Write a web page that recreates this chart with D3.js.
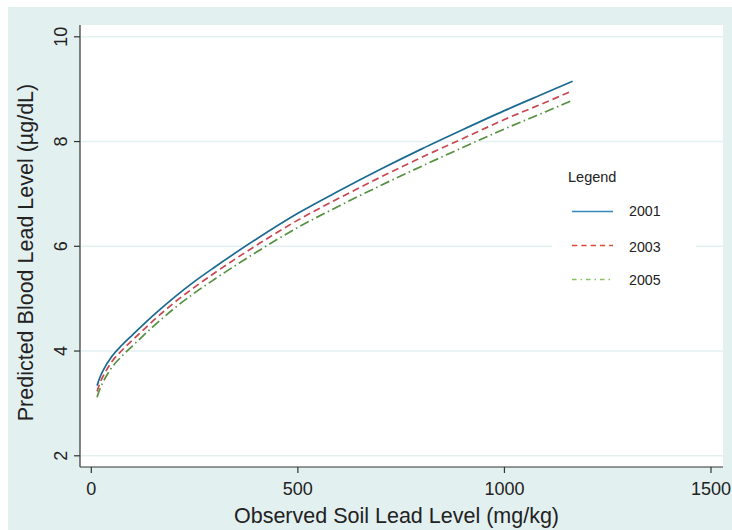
<!DOCTYPE html>
<html><head><meta charset="utf-8">
<script src="https://cdn.jsdelivr.net/npm/d3@7"></script>
<style>body{margin:0;background:#fff}svg{display:block}text{font-family:"Liberation Sans",Arial,sans-serif;fill:#222}</style>
</head><body><svg id="c" width="732" height="530"></svg>
<script>
const soil = [14, 20, 30, 50, 75, 100, 150, 200, 250, 300, 400, 500, 600, 700, 800, 900, 1000, 1100, 1165];
const y2001 = [3.34, 3.48, 3.65, 3.90, 4.12, 4.31, 4.68, 5.02, 5.33, 5.61, 6.14, 6.63, 7.06, 7.47, 7.86, 8.23, 8.59, 8.93, 9.15];
const y2003 = [3.23, 3.37, 3.54, 3.80, 4.02, 4.21, 4.58, 4.92, 5.22, 5.50, 6.02, 6.50, 6.92, 7.32, 7.70, 8.06, 8.42, 8.75, 8.97];
const y2005 = [3.12, 3.26, 3.43, 3.69, 3.91, 4.10, 4.47, 4.81, 5.11, 5.38, 5.89, 6.36, 6.77, 7.16, 7.53, 7.89, 8.24, 8.57, 8.79];
const seriesNames = ["2001", "2003", "2005"];
const xTicks = [0, 500, 1000, 1500];
const yTicks = [2, 4, 6, 8, 10];

const svg = d3.select("#c");
const teal = "#e3f0f0";
const box = {l: 80, r: 723, t: 25, b: 467};
const x = d3.scaleLinear().domain([0, 1500]).range([91.3, 711]);
const y = d3.scaleLinear().domain([2, 10]).range([455.8, 36.8]);

svg.append("rect").attr("x", 8).attr("y", 7).attr("width", 724).attr("height", 523).attr("fill", teal);
svg.append("rect").attr("x", box.l).attr("y", box.t).attr("width", box.r - box.l).attr("height", box.b - box.t).attr("fill", "#fff");

// gridlines
svg.append("g").selectAll("line").data(yTicks).join("line")
  .attr("x1", box.l + 1).attr("x2", box.r).attr("y1", d => y(d)).attr("y2", d => y(d))
  .attr("stroke", teal).attr("stroke-width", 1.6);

// legend box (drawn over gridlines)
const lg = svg.append("g");
lg.append("rect").attr("x", 552).attr("y", 150).attr("width", 144).attr("height", 150).attr("fill", "#fff");

// lines
const styles = [
  {c: "#1b6a91", lc: "#3289bd", dash: null, ldash: null},
  {c: "#c9474f", lc: "#e0483a", dash: "7,4", ldash: "5.3,4"},
  {c: "#55913f", lc: "#86c262", dash: "9.5,3.5,1.5,3.5", ldash: "4.5,4,1.5,4"}
];
const data = [y2001, y2003, y2005];
const line = d3.line().x(d => x(d[0])).y(d => y(d[1])).curve(d3.curveMonotoneX);
data.forEach((vals, i) => {
  svg.append("path").datum(soil.map((s, j) => [s, vals[j]]))
    .attr("d", line).attr("fill", "none").attr("stroke", styles[i].c)
    .attr("stroke-width", 1.7).attr("stroke-dasharray", styles[i].dash);
});

// axes
const xAxis = svg.append("g").attr("transform", `translate(0,${box.b})`);
xAxis.append("line").attr("x1", box.l).attr("x2", box.r).attr("stroke", "#333").attr("stroke-width", 1.2);
xAxis.selectAll(".t").data(xTicks).join("line").attr("class", "t")
  .attr("x1", d => x(d)).attr("x2", d => x(d)).attr("y1", 0).attr("y2", 6).attr("stroke", "#333").attr("stroke-width", 1.2);
xAxis.selectAll("text").data(xTicks).join("text")
  .attr("x", d => x(d)).attr("y", 28).attr("text-anchor", "middle").attr("font-size", 18).text(d => d);

const yAxis = svg.append("g").attr("transform", `translate(${box.l},0)`);
yAxis.append("line").attr("y1", box.t).attr("y2", box.b).attr("stroke", "#333").attr("stroke-width", 1.2);
yAxis.selectAll(".t").data(yTicks).join("line").attr("class", "t")
  .attr("y1", d => y(d)).attr("y2", d => y(d)).attr("x1", 0).attr("x2", -6).attr("stroke", "#333").attr("stroke-width", 1.2);
yAxis.selectAll("text").data(yTicks).join("text")
  .attr("transform", d => `translate(-13,${y(d)}) rotate(-90)`)
  .attr("text-anchor", "middle").attr("font-size", 18).text(d => d);

svg.append("text").attr("x", 396.5).attr("y", 523).attr("text-anchor", "middle")
  .attr("font-size", 21.5).text("Observed Soil Lead Level (mg/kg)");
svg.append("text").attr("transform", `translate(33,252.5) rotate(-90)`).attr("text-anchor", "middle")
  .attr("font-size", 21.5).text("Predicted Blood Lead Level (µg/dL)");

// legend content
lg.append("text").attr("x", 568).attr("y", 182).attr("font-size", 14.5).text("Legend");
const ly = [211.5, 245.5, 279.5];
const lty = [216, 251.5, 285];
seriesNames.forEach((n, i) => {
  lg.append("line").attr("x1", 572).attr("x2", 613).attr("y1", ly[i]).attr("y2", ly[i])
    .attr("stroke", styles[i].lc).attr("stroke-width", 1.4).attr("stroke-dasharray", styles[i].ldash);
  lg.append("text").attr("x", 629).attr("y", lty[i]).attr("font-size", 14.2).text(n);
});
</script></body></html>
